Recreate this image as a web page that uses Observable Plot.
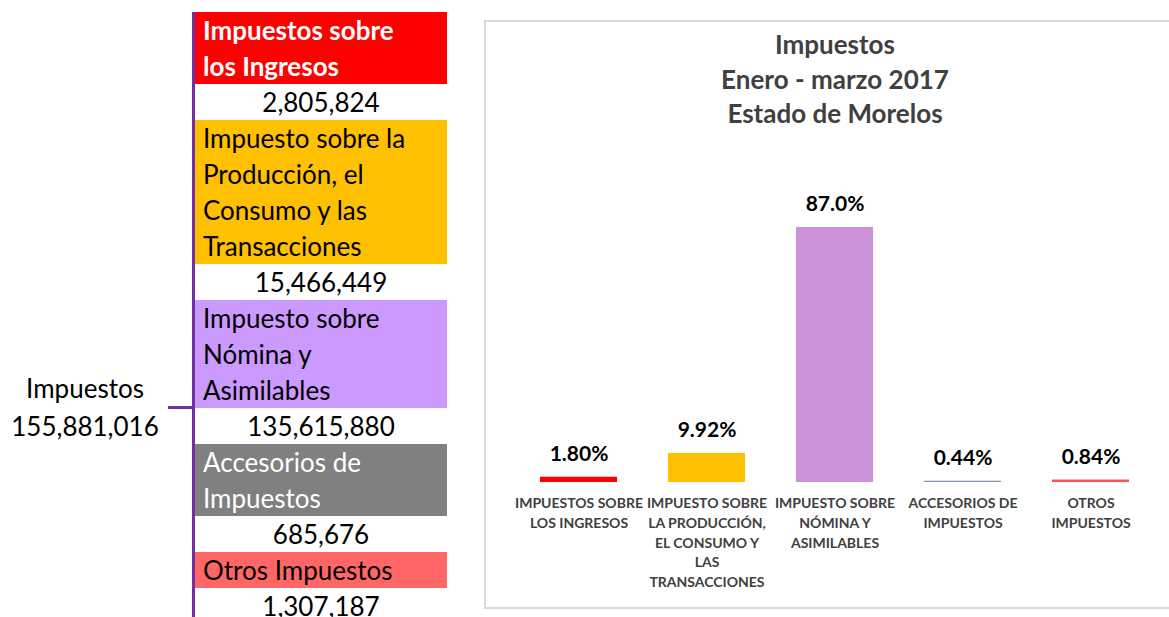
<!DOCTYPE html>
<html>
<head>
<meta charset="utf-8">
<script src="https://cdn.jsdelivr.net/npm/d3@7"></script>
<script src="https://cdn.jsdelivr.net/npm/@observablehq/plot@0.6"></script>
<style>
  html, body { margin: 0; padding: 0; background: #fff; }
  body { width: 1169px; height: 617px; position: relative; overflow: hidden; font-family: Lato, "Open Sans", sans-serif; }
  #tree { position: absolute; left: 0; top: 0; }
  .vline { position: absolute; left: 192px; top: 12px; width: 3px; height: 610px; background: #7030A0; }
  .hline { position: absolute; left: 168px; top: 406px; width: 25px; height: 3px; background: #7030A0; }
  .root { position: absolute; left: 0; width: 170px; top: 369px; text-align: center; font-size: 26px; line-height: 38px; color: #000; }
  .col { position: absolute; left: 195px; top: 12px; width: 252px; }
  .box { padding-left: 8px; font-size: 26px; line-height: 36px; white-space: pre-line; }
  .val { text-align: center; font-size: 26px; line-height: 36px; height: 36px; color: #000; background: #fff; }
  #panel { position: absolute; left: 484px; top: 20px; width: 720px; height: 585px; border: 2px solid #D9D9D9; box-sizing: content-box; }
  #title { position: absolute; left: 484px; width: 702px; top: 27px; text-align: center; font-weight: bold; font-size: 26px; line-height: 34.5px; color: #404040; }
  #chart { position: absolute; left: 484px; top: 150px; }
</style>
</head>
<body>
<div id="tree">
  <div class="vline"></div>
  <div class="hline"></div>
  <div class="root" id="root"></div>
  <div class="col" id="col"></div>
</div>
<div id="panel"></div>
<div id="title"></div>
<div id="chart"></div>
<script>
// ---- data ----
const rootName = "Impuestos";
const categories = [
  "Impuestos sobre\nlos Ingresos",
  "Impuesto sobre la\nProducción, el\nConsumo y las\nTransacciones",
  "Impuesto sobre\nNómina y\nAsimilables",
  "Accesorios de\nImpuestos",
  "Otros Impuestos"
];
const amounts = [2805824, 15466449, 135615880, 685676, 1307187];
const xTickLabels = [
  "IMPUESTOS SOBRE\nLOS INGRESOS",
  "IMPUESTO SOBRE\nLA PRODUCCIÓN,\nEL CONSUMO Y\nLAS\nTRANSACCIONES",
  "IMPUESTO SOBRE\nNÓMINA Y\nASIMILABLES",
  "ACCESORIOS DE\nIMPUESTOS",
  "OTROS\nIMPUESTOS"
];
const titleLines = ["Impuestos", "Enero - marzo 2017", "Estado de Morelos"];

// ---- styles ----
const boxColors = ["#FF0000", "#FFC000", "#CC99FF", "#808080", "#FF6666"];
const boxText = ["#FFFFFF", "#000000", "#000000", "#FFFFFF", "#000000"];
const boxWeight = ["bold", "normal", "normal", "normal", "normal"];
const barColors = ["#FF0000", "#FFC000", "#CC92D8", "#8497B0", "#FF5050"];

const fmtInt = d3.format(",d");
const total = d3.sum(amounts);

// ---- left tree ----
document.getElementById("root").innerHTML = rootName + "<br>" + fmtInt(total);
const col = document.getElementById("col");
categories.forEach((c, i) => {
  const b = document.createElement("div");
  b.className = "box";
  b.style.background = boxColors[i];
  b.style.color = boxText[i];
  b.style.fontWeight = boxWeight[i];
  b.textContent = c;
  col.appendChild(b);
  const v = document.createElement("div");
  v.className = "val";
  v.textContent = fmtInt(amounts[i]);
  col.appendChild(v);
});

// ---- title ----
document.getElementById("title").innerHTML = titleLines.join("<br>");

// ---- bar chart ----
const data = categories.map((c, i) => ({cat: c, value: amounts[i] / total * 100}));
const pct = v => (v >= 10 ? v.toFixed(1) : v.toFixed(2)) + "%";

const chart = Plot.plot({
  width: 685,
  height: 457,
  marginLeft: 29,
  marginRight: 13,
  marginTop: 77,
  marginBottom: 125,
  style: {fontFamily: "Lato, 'Open Sans', sans-serif", background: "transparent", overflow: "visible"},
  x: {type: "band", domain: categories, paddingInner: 0.4, paddingOuter: 0.2, axis: null},
  y: {domain: [0, d3.max(data, d => d.value)], axis: null},
  color: {domain: categories, range: barColors},
  marks: [
    Plot.barY(data, {x: "cat", y: "value", fill: "cat"}),
    Plot.text(data, {x: "cat", y: "value", text: d => pct(d.value), dy: -23, fontSize: 21, fontWeight: "bold", fill: "#000"}),
    Plot.axisX({domain: categories, tickSize: 0, tickPadding: 12, label: null, fontSize: 14, fontWeight: "bold", fill: "#404040", lineHeight: 1.4,
      tickFormat: d => xTickLabels[categories.indexOf(d)]})
  ]
});
document.getElementById("chart").appendChild(chart);
</script>
</body>
</html>
